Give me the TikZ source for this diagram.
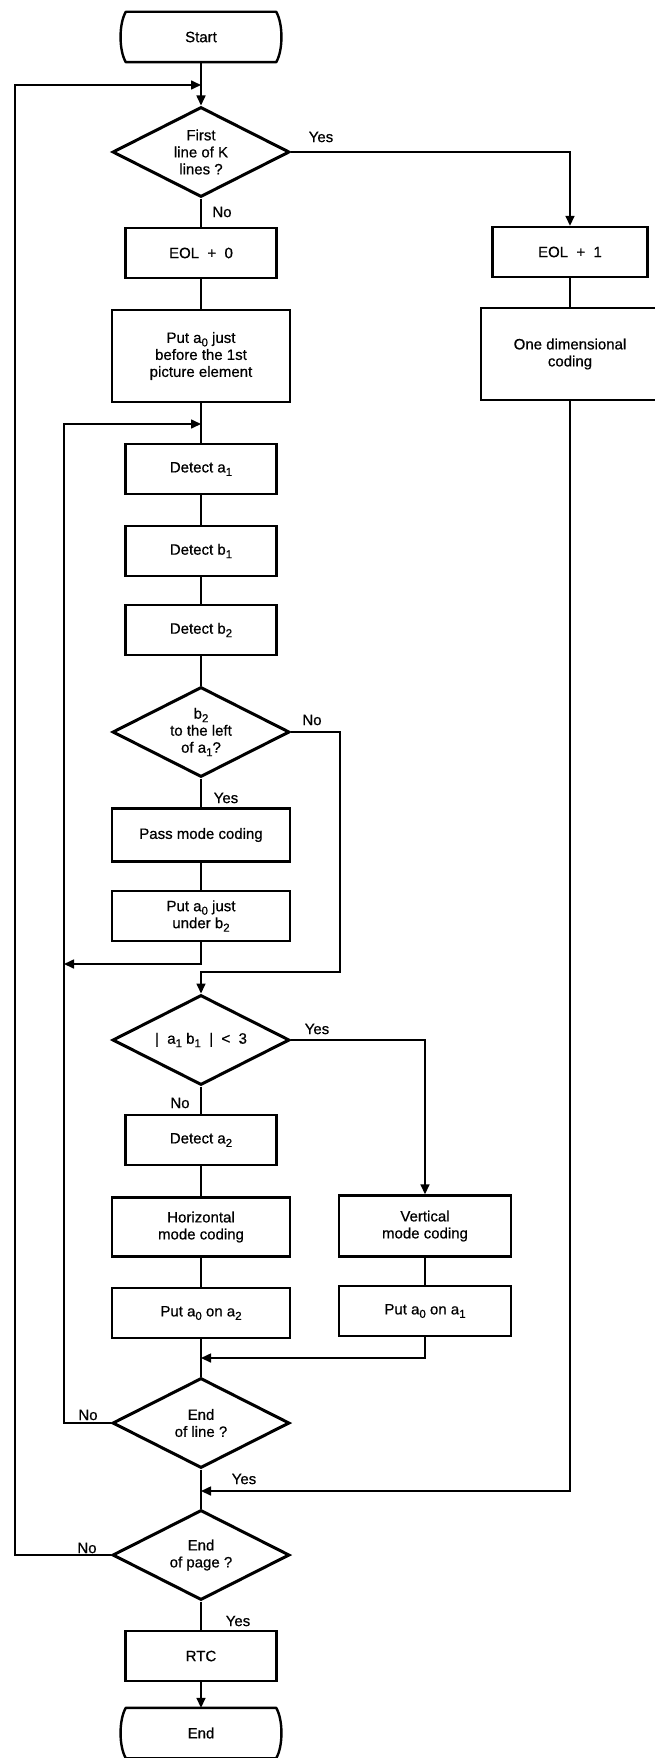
\documentclass[tikz,border=0pt]{standalone}
\usepackage{fontspec}
\setmainfont{Liberation Sans}[FakeBold=0.6]
\usetikzlibrary{arrows.meta}
\usetikzlibrary{shapes.geometric}
\newcommand{\lowidx}[1]{\raisebox{-3.5pt}{\fontsize{11.5}{12}\selectfont #1}}
\tikzset{
  chart style/.style={
    x=1pt, y=-1pt,
    every node/.style={font=\fontsize{15}{17}\selectfont, align=center},
  },
  box/.style={
    draw, line width=2.4pt,
    rectangle, inner sep=2pt,
    minimum width=151, minimum height=50,
  },
  wide box/.style={
    box,
    minimum width=178,
  },
  decision/.style={
    draw, line width=3pt,
    diamond, aspect=2, inner sep=0pt,
    minimum width=177, minimum height=90,
  },
  terminal/.style={
    rectangle, inner sep=0pt,
    minimum width=150, minimum height=50,
  },
  terminal border/.style={
    draw, line width=2.4pt, line join=round,
  },
  flow/.style={
    draw, line width=1.6pt,
  },
  flow arrow/.style={
    flow,
    -{Triangle[length=10pt,width=9pt]},
  },
  answer/.style={
    inner sep=0pt,
  },
}

\begin{document}
\begin{tikzpicture}[chart style]
  \path[use as bounding box, fill=white] (0,0) rectangle (654,1758);

  % main column
  \node[terminal] (start) at (201,37) {Start};
  \node[decision] (d1) at (201,152) {First\\line of K\\lines ?};
  \node[box] (eol0) at (201,253) {EOL\ \ +\ \ 0};
  \node[wide box, minimum height=92] (put0) at (201,356)
    {Put a\lowidx{0} just\\before the 1st\\picture element};
  \node[box] (deta1) at (201,469) {Detect a\lowidx{1}};
  \node[box] (detb1) at (201,551) {Detect b\lowidx{1}};
  \node[box] (detb2) at (201,630) {Detect b\lowidx{2}};
  \node[decision] (d2) at (201,732)
    {b\lowidx{2}\\to the left\\of a\lowidx{1}?};
  \node[wide box, minimum height=53] (pass) at (201,835) {Pass mode coding};
  \node[wide box] (putb2) at (201,916)
    {Put a\lowidx{0} just\\under b\lowidx{2}};
  \node[decision] (d3) at (201,1040)
    {|\ \ a\lowidx{1}\ b\lowidx{1}\ \ |\ \ <\ \ 3};
  \node[box] (deta2) at (201,1140) {Detect a\lowidx{2}};
  \node[wide box, minimum height=59] (horiz) at (201,1227)
    {Horizontal\\mode coding};
  \node[wide box] (puta2) at (201,1313)
    {Put a\lowidx{0} on a\lowidx{2}};
  \node[decision] (d4) at (201,1423) {End\\of line ?};
  \node[decision] (d5) at (201,1555) {End\\of page ?};
  \node[box] (rtc) at (201,1656) {RTC};
  \node[terminal] (stop) at (201,1733) {End};

  % side columns
  \node[box, minimum width=155] (eol1) at (570,252) {EOL\ \ +\ \ 1};
  \node[wide box, minimum height=92] (onedim) at (570,354)
    {One dimensional\\coding};
  \node[box, minimum width=172, minimum height=61] (vert) at (425,1226)
    {Vertical\\mode coding};
  \node[box, minimum width=172] (puta1) at (425,1311)
    {Put a\lowidx{0} on a\lowidx{1}};

  \foreach \t in {start,stop}
    \draw[terminal border] (\t.north west) -- (\t.north east)
      .. controls +(7,12) and +(7,-12) .. (\t.south east)
      -- (\t.south west)
      .. controls +(-7,-12) and +(-7,12) .. (\t.north west) -- cycle;

  % junctions
  \coordinate (j0) at (201,85);
  \coordinate (l0) at (15,85);
  \coordinate (j1) at (201,424);
  \coordinate (l1) at (64,424);
  \coordinate (l2) at (64,964);
  \coordinate (r2) at (340,972);
  \coordinate (j3) at (201,1358);
  \coordinate (j4) at (201,1491);

  \draw[flow arrow] (start.south) -- (d1.north);
  \draw[flow arrow] (d1.east) -| (eol1.north);
  \draw[flow] (d1.south) -- (eol0.north);
  \draw[flow] (eol0) -- (put0);
  \draw[flow] (eol1) -- (onedim);
  \draw[flow] (put0) -- (deta1);
  \draw[flow] (deta1) -- (detb1);
  \draw[flow] (detb1) -- (detb2);
  \draw[flow] (detb2.south) -- (d2.north);
  \draw[flow] (d2.south) -- (pass.north);
  \draw[flow] (pass) -- (putb2);
  \draw[flow arrow] (putb2.south) |- (l2);
  \draw[flow arrow] (d2.east) -| (r2) -| (d3.north);
  \draw[flow arrow] (d3.east) -| (vert.north);
  \draw[flow] (d3.south) -- (deta2.north);
  \draw[flow] (deta2) -- (horiz);
  \draw[flow] (horiz) -- (puta2);
  \draw[flow] (vert) -- (puta1);
  \draw[flow] (puta2.south) -- (d4.north);
  \draw[flow arrow] (puta1.south) |- (j3);
  \draw[flow] (d4.south) -- (d5.north);
  \draw[flow arrow] (onedim.south) |- (j4);
  \draw[flow arrow] (d4.west) -| (l1) -- (j1);
  \draw[flow arrow] (d5.west) -| (l0) -- (j0);
  \draw[flow] (d5.south) -- (rtc.north);
  \draw[flow arrow] (rtc.south) -- (stop.north);

  % answers
  \node[answer] (yes1) at (321,137) {Yes};
  \node[answer] (no1) at (222,212) {No};
  \node[answer] (no2) at (312,720) {No};
  \node[answer] (yes2) at (226,798) {Yes};
  \node[answer] (yes3) at (317,1029) {Yes};
  \node[answer] (no3) at (180,1103) {No};
  \node[answer] (no4) at (88,1415) {No};
  \node[answer] (yes4) at (244,1479) {Yes};
  \node[answer] (no5) at (87,1548) {No};
  \node[answer] (yes5) at (238,1621) {Yes};
\end{tikzpicture}
\end{document}
